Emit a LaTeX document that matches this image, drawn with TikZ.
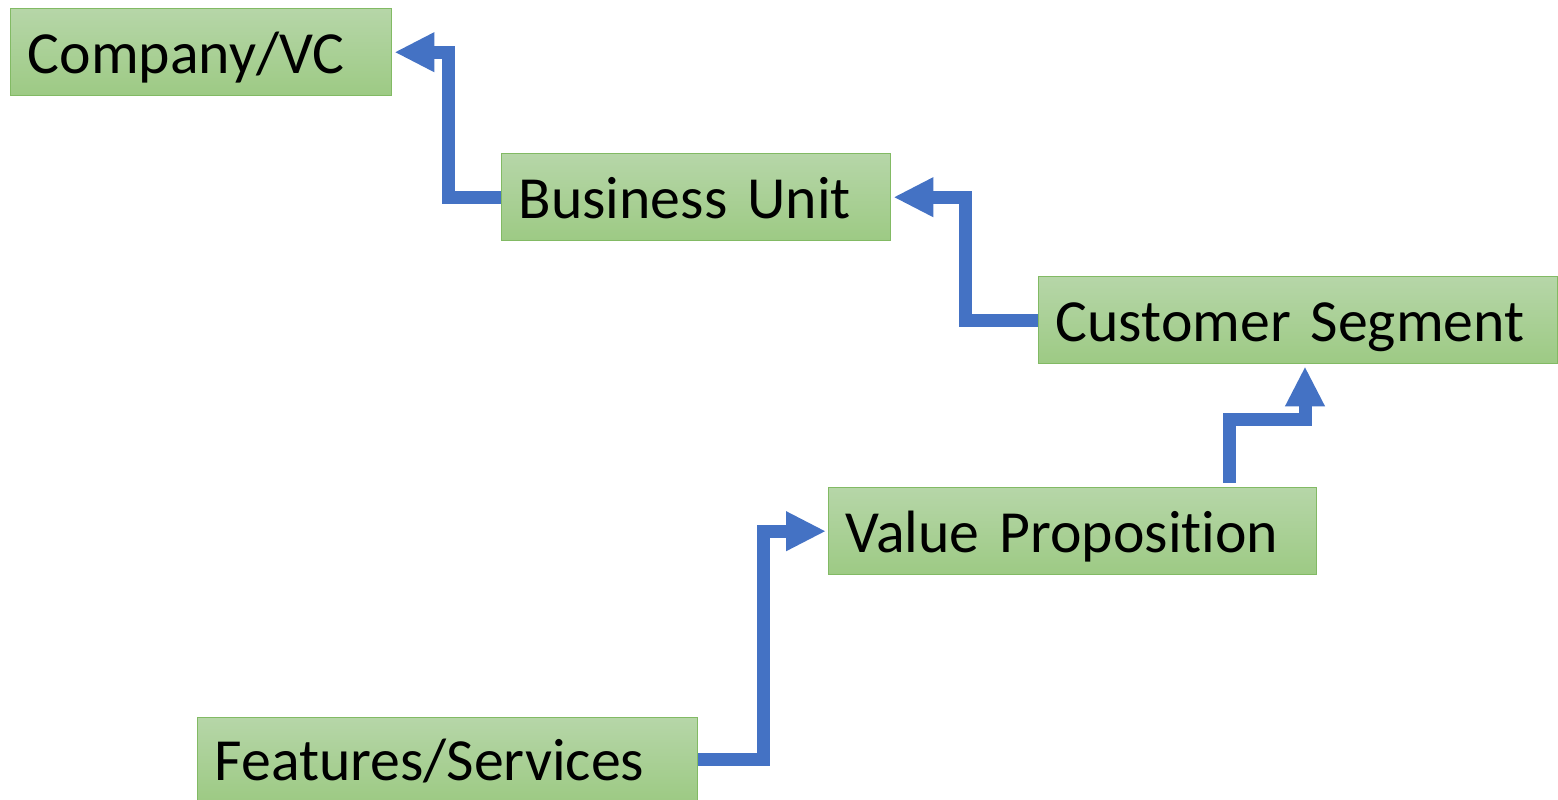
\documentclass[tikz,border=0pt]{standalone}
\usepackage{fontspec}
\setmainfont{Carlito}[Ligatures=NoCommon]
\usetikzlibrary{arrows.meta}
\definecolor{boxtop}{RGB}{182,214,168}
\definecolor{boxbottom}{RGB}{157,202,132}
\definecolor{boxline}{RGB}{130,186,100}
\definecolor{linkblue}{RGB}{68,114,196}
\newcommand{\levelfont}{\fontsize{34}{40}\selectfont\spaceskip=6pt\relax}
\tikzstyle{level box}=[anchor=north west, draw=boxline, line width=.8pt, top color=boxtop, bottom color=boxbottom, inner xsep=.34cm, inner ysep=0pt, minimum height=1.74cm, text height=1.1cm, text depth=.24cm, align=left, font=\levelfont]
\tikzstyle{link}=[linkblue, line width=.26cm, line join=miter, -{Triangle[width=.74cm,length=.8cm]}, shorten >=.04cm]

\begin{document}
\begin{tikzpicture}
    \useasboundingbox (0,0) rectangle (31.16,-16);

    % Levels
    \draw (0.2,-0.16) node[level box, text width=6.94cm] (co) {Company/VC};
    \draw (10.02,-3.06) node[level box, text width=7.1cm] (bu) {Business Unit};
    \draw (20.76,-5.52) node[level box, text width=9.7cm] (cs) {Customer Segment};
    \draw (16.56,-9.74) node[level box, text width=9.08cm] (vp) {Value Proposition};
    \draw (3.94,-14.34) node[level box, text width=9.32cm, minimum height=1.66cm] (fs) {Features/Services};

    % Links
    \draw[link] (bu.west) -- ++(-1.06,0) |- (co.east);
    \draw[link] (cs.west) -- ++(-1.46,0) |- (bu.east);
    \draw[link] ([xshift=-1.76cm,yshift=.08cm]vp.north east) -- ++(0,1.26) -| ([xshift=5.34cm]cs.south west);
    \draw[link] (fs.east) -- ++(1.3,0) |- (vp.west);

\end{tikzpicture}
\end{document}
